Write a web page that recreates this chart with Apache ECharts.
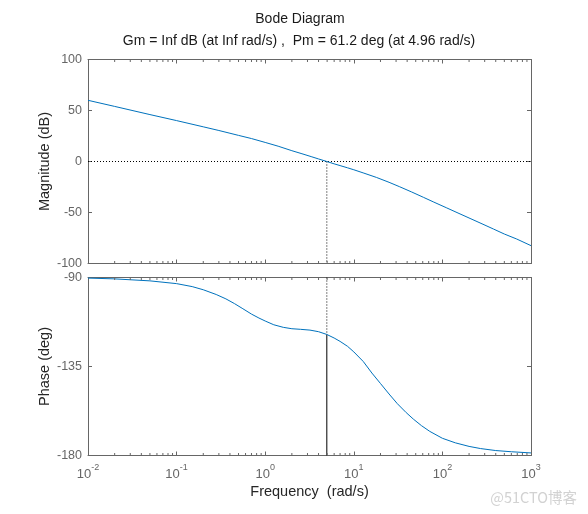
<!DOCTYPE html>
<html>
<head>
<meta charset="utf-8">
<script src="https://cdn.jsdelivr.net/npm/echarts@6/dist/echarts.min.js"></script>
<style>
html,body{margin:0;padding:0;background:#fff;}
#chart{width:588px;height:514px;}
</style>
</head>
<body>
<div id="chart"></div>
<script>
// ---- data ----
const magFreq = [0.01, 0.02, 0.05, 0.1, 0.2, 0.3, 0.4, 0.5, 0.7, 1.0, 1.4, 2.0, 2.6, 3.3, 4.0, 4.96, 6.0, 7.0, 8.5, 10, 13, 18, 25, 33, 45, 61, 80, 112, 150, 205, 280, 377, 500, 690, 1000];
const magDb   = [60.0, 54.0, 46.0, 40.1, 34.0, 30.4, 27.7, 25.6, 22.5, 18.7, 15.0, 10.6, 7.6, 4.8, 2.5, 0.0, -2.3, -4.0, -6.2, -8.1, -11.4, -15.6, -20.4, -24.8, -29.9, -35.1, -39.8, -45.5, -50.5, -55.8, -61.1, -66.2, -71.1, -76.0, -82.5];

const phFreq   = [0.01, 0.02, 0.05, 0.1, 0.15, 0.2, 0.28, 0.36, 0.45, 0.56, 0.7, 0.85, 1.0, 1.25, 1.6, 2.0, 2.5, 3.2, 4.0, 4.96, 6.0, 7.0, 8.5, 10, 12.8, 16, 20, 25, 31, 39, 47, 58, 72, 100, 140, 200, 270, 400, 600, 1000];
const phaseDeg = [-90.3, -90.7, -91.7, -93.1, -94.6, -96.2, -98.6, -100.8, -103.2, -105.8, -108.5, -110.5, -112.0, -113.9, -115.2, -115.9, -116.2, -116.6, -117.4, -118.8, -120.6, -122.3, -124.8, -127.6, -132.5, -138.3, -143.6, -148.9, -153.8, -158.3, -161.6, -164.9, -167.8, -171.3, -173.6, -175.4, -176.5, -177.5, -178.1, -178.7];

const pmFreq = 4.96;
const pmPhase = -118.8;
const freqRange = [0.01, 1000];
const magRange = [-100, 100];
const phaseRange = [-180, -90];
const minorMultipliers = [2, 3, 4, 5, 6, 7, 8, 9];
const minorDecades = [0.01, 0.1, 1, 10, 100];

const titleLine1 = 'Bode Diagram';
const titleLine2 = 'Gm = Inf dB (at Inf rad/s) ,  Pm = 61.2 deg (at 4.96 rad/s)';

// ---- build ----
const magData = magFreq.map((f, i) => [f, magDb[i]]);
const phData = phFreq.map((f, i) => [f, phaseDeg[i]]);
const minorTicks = [];
minorDecades.forEach(d => minorMultipliers.forEach(m => minorTicks.push([d * m, 0])));

const boxColor = '#666666';
const font = '"Liberation Sans", Arial, sans-serif';

function xAx(grid, pos, showLabel, name) {
  return {
    type: 'log', logBase: 10, gridIndex: grid, position: pos,
    min: freqRange[0], max: freqRange[1],
    axisLine: {show: true, onZero: false, lineStyle: {color: boxColor, width: 1}},
    axisTick: {show: true, inside: true, length: 4, lineStyle: {color: boxColor}},
    splitLine: {show: false},
    axisLabel: showLabel ? {
      show: true, margin: 8,
      formatter: v => '{b|10}{s|' + Math.round(Math.log10(v)) + '}',
      rich: {
        b: {fontSize: 13, color: boxColor, fontFamily: font, verticalAlign: 'bottom', lineHeight: 17},
        s: {fontSize: 9, color: boxColor, fontFamily: font, verticalAlign: 'top', lineHeight: 17, padding: [0, 0, 9, 0]}
      }
    } : {show: false},
    name: name || '', nameLocation: 'middle', nameGap: 29, nameMoveOverlap: false,
    nameTextStyle: {fontSize: 14.5, color: '#262626', fontFamily: font}
  };
}
function yAx(grid, pos, range, interval, showLabel, name) {
  return {
    type: 'value', gridIndex: grid, position: pos,
    min: range[0], max: range[1], interval: interval,
    axisLine: {show: true, onZero: false, lineStyle: {color: boxColor, width: 1}},
    axisTick: {show: true, inside: true, length: 4, lineStyle: {color: boxColor}},
    splitLine: {show: false},
    axisLabel: showLabel ? {show: true, margin: 6, fontSize: 12.5, color: boxColor, fontFamily: font} : {show: false},
    name: name || '', nameLocation: 'middle', nameGap: 36, nameMoveOverlap: false,
    nameTextStyle: {fontSize: 14.5, color: '#262626', fontFamily: font}
  };
}

function minorSeries(xi, yi, range) {
  return {
    type: 'custom', xAxisIndex: xi, yAxisIndex: yi, silent: true, animation: false, z: 5,
    data: minorTicks,
    renderItem: function (params, api) {
      const w = api.value(0);
      const pb = api.coord([w, range[0]]);
      const pt = api.coord([w, range[1]]);
      const st = {stroke: boxColor, lineWidth: 1};
      return {type: 'group', children: [
        {type: 'line', shape: {x1: pb[0], y1: pb[1], x2: pb[0], y2: pb[1] - 2.5}, style: st},
        {type: 'line', shape: {x1: pt[0], y1: pt[1], x2: pt[0], y2: pt[1] + 2.5}, style: st}
      ]};
    }
  };
}

const chart = echarts.init(document.getElementById('chart'), null, {renderer: 'canvas'});
chart.setOption({
  animation: false,
  backgroundColor: '#ffffff',
  graphic: [
    {type: 'text', style: {text: titleLine1, x: 300, y: 19, align: 'center', verticalAlign: 'middle', fontSize: 14, fill: '#1a1a1a', fontFamily: font}},
    {type: 'text', style: {text: titleLine2, x: 299, y: 41, align: 'center', verticalAlign: 'middle', fontSize: 14, fill: '#1a1a1a', fontFamily: font}},
    {type: 'text', style: {text: '@51CTO博客', x: 577, y: 497, align: 'right', verticalAlign: 'middle', fontSize: 14.5, fill: '#d2d2d2', fontFamily: '"Noto Sans CJK SC", "Liberation Sans", sans-serif'}}
  ],
  grid: [
    {left: 88, top: 59.5, width: 443, height: 204},
    {left: 88, top: 277.5, width: 443, height: 178}
  ],
  xAxis: [
    xAx(0, 'bottom', false),
    xAx(0, 'top', false),
    xAx(1, 'bottom', true, 'Frequency  (rad/s)'),
    xAx(1, 'top', false)
  ],
  yAxis: [
    yAx(0, 'left', magRange, 50, true, 'Magnitude (dB)'),
    yAx(0, 'right', magRange, 50, false),
    yAx(1, 'left', phaseRange, 45, true, 'Phase (deg)'),
    yAx(1, 'right', phaseRange, 45, false)
  ],
  series: [
    {type: 'line', xAxisIndex: 0, yAxisIndex: 0, data: [[freqRange[0], 0], [freqRange[1], 0]], symbol: 'none',
     lineStyle: {color: '#000', width: 1, type: [1, 2]}, silent: true, z: 2},
    {type: 'line', xAxisIndex: 0, yAxisIndex: 0, data: [[pmFreq, 0], [pmFreq, magRange[0]]], symbol: 'none',
     lineStyle: {color: '#000', width: 1, type: [1, 2]}, silent: true, z: 2},
    {type: 'line', xAxisIndex: 2, yAxisIndex: 2, data: [[pmFreq, phaseRange[1]], [pmFreq, pmPhase]], symbol: 'none',
     lineStyle: {color: '#000', width: 1, type: [1, 2]}, silent: true, z: 2},
    {type: 'line', xAxisIndex: 2, yAxisIndex: 2, data: [[pmFreq, pmPhase], [pmFreq, phaseRange[0]]], symbol: 'none',
     lineStyle: {color: '#000', width: 1}, silent: true, z: 2},
    {type: 'line', xAxisIndex: 0, yAxisIndex: 0, data: magData, symbol: 'none', smooth: false,
     lineStyle: {color: '#0072BD', width: 1}, z: 3},
    {type: 'line', xAxisIndex: 2, yAxisIndex: 2, data: phData, symbol: 'none', smooth: false,
     lineStyle: {color: '#0072BD', width: 1}, z: 3},
    minorSeries(0, 0, magRange),
    minorSeries(2, 2, phaseRange)
  ]
});
</script>
</body>
</html>
